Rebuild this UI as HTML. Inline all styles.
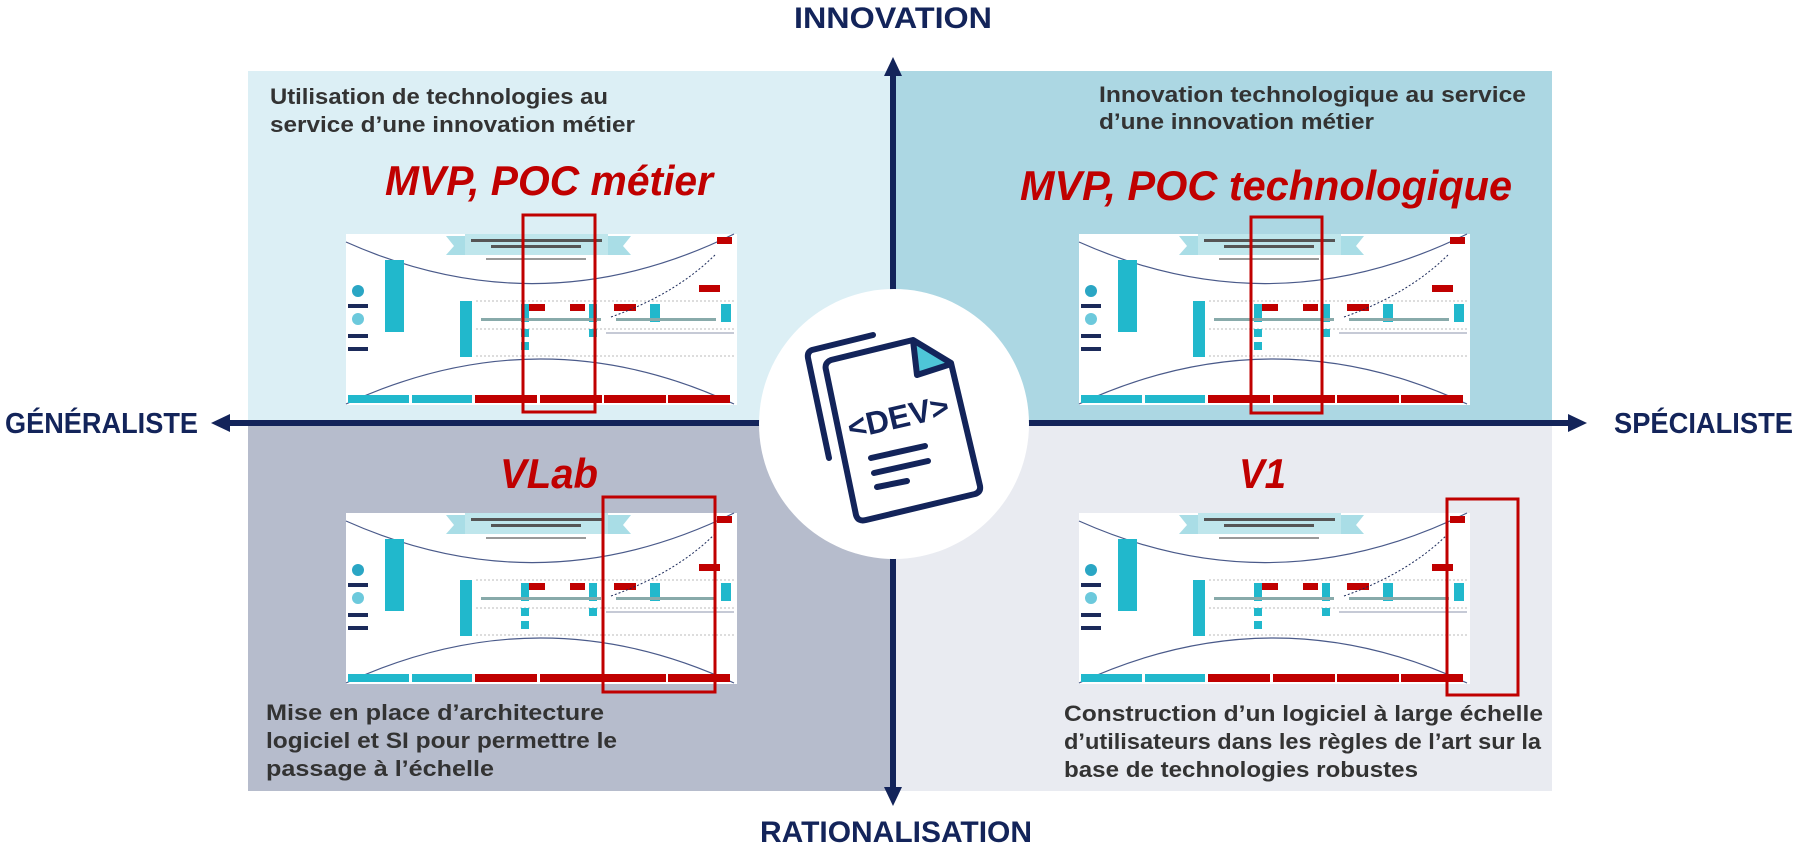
<!DOCTYPE html>
<html><head><meta charset="utf-8"><style>
html,body{margin:0;padding:0;background:#fff;}
svg{display:block;}
text{font-family:"Liberation Sans",sans-serif;}
</style></head><body>
<svg width="1805" height="846" viewBox="0 0 1805 846" xmlns="http://www.w3.org/2000/svg">
<defs>
<g id="thumb">
  <rect x="0" y="0" width="391" height="171" fill="#fff"/>
  <polygon points="100,2 119,2 119,21 100,21 108,12" fill="#a9dde6"/>
  <polygon points="262,2 285,2 277,12 285,21 262,21" fill="#a9dde6"/>
  <rect x="119" y="0" width="143" height="21" fill="#bfe6ec"/>
  <rect x="125" y="5" width="131" height="3" fill="#555"/>
  <rect x="145" y="11" width="90" height="3" fill="#555"/>
  <rect x="140" y="24" width="100" height="2" fill="#999"/>
  <path d="M0,8 Q195,95 388,0" fill="none" stroke="#4a5a8a" stroke-width="1.2"/>
  <path d="M0,170 Q195,80 388,170" fill="none" stroke="#4a5a8a" stroke-width="1.2"/>
  <line x1="130" y1="67" x2="388" y2="67" stroke="#bbb" stroke-dasharray="2,2"/>
  <line x1="130" y1="95" x2="388" y2="95" stroke="#bbb" stroke-dasharray="2,2"/>
  <line x1="130" y1="122" x2="388" y2="122" stroke="#bbb" stroke-dasharray="2,2"/>
  <rect x="39" y="26" width="19" height="72" fill="#21b8cc"/>
  <rect x="114" y="67" width="12" height="56" fill="#21b8cc"/>
  <circle cx="12" cy="57" r="6" fill="#2aa6c4"/>
  <circle cx="12" cy="85" r="6" fill="#6cc9dc"/>
  <rect x="2" y="70" width="20" height="4" fill="#1b2a5a"/>
  <rect x="2" y="100" width="20" height="4" fill="#1b2a5a"/>
  <rect x="2" y="113" width="20" height="4" fill="#1b2a5a"/>
  <rect x="175" y="70" width="8" height="18" fill="#21b8cc"/>
  <rect x="243" y="70" width="8" height="18" fill="#21b8cc"/>
  <rect x="304" y="70" width="10" height="18" fill="#21b8cc"/>
  <rect x="375" y="70" width="10" height="18" fill="#21b8cc"/>
  <rect x="175" y="95" width="8" height="8" fill="#21b8cc"/>
  <rect x="175" y="108" width="8" height="8" fill="#21b8cc"/>
  <rect x="243" y="95" width="8" height="8" fill="#21b8cc"/>
  <rect x="371" y="3" width="15" height="7" fill="#c00000"/>
  <rect x="353" y="51" width="21" height="7" fill="#c00000"/>
  <rect x="183" y="70" width="16" height="7" fill="#c00000"/>
  <rect x="224" y="70" width="15" height="7" fill="#c00000"/>
  <rect x="268" y="70" width="22" height="7" fill="#c00000"/>
  <path d="M265,83 Q330,60 370,20" fill="none" stroke="#1b2a5a" stroke-dasharray="2,2"/>
  <line x1="260" y1="99" x2="388" y2="99" stroke="#1b2a5a" stroke-width="0.6"/>
  <rect x="135" y="84" width="120" height="3" fill="#8aa"/>
  <rect x="270" y="84" width="100" height="3" fill="#8aa"/>
  <rect x="2" y="161" width="61" height="8" fill="#21b8cc"/>
  <rect x="66" y="161" width="60" height="8" fill="#21b8cc"/>
  <rect x="129" y="161" width="62" height="8" fill="#c00000"/>
  <rect x="194" y="161" width="62" height="8" fill="#c00000"/>
  <rect x="258" y="161" width="62" height="8" fill="#c00000"/>
  <rect x="322" y="161" width="62" height="8" fill="#c00000"/>
</g>
</defs>

<!-- quadrants -->
<rect x="248" y="71" width="646" height="352" fill="#dceff5"/>
<rect x="894" y="71" width="658" height="352" fill="#acd7e3"/>
<rect x="248" y="423" width="646" height="368" fill="#b6bccc"/>
<rect x="894" y="423" width="658" height="368" fill="#e9ebf1"/>

<!-- axes -->
<line x1="893" y1="70" x2="893" y2="790" stroke="#13245a" stroke-width="6"/>
<polygon points="893,57 884,76 902,76" fill="#13245a"/>
<polygon points="893,806 884,787 902,787" fill="#13245a"/>
<line x1="225" y1="423" x2="1575" y2="423" stroke="#13245a" stroke-width="6"/>
<polygon points="211,423 230,414 230,432" fill="#13245a"/>
<polygon points="1587,423 1568,414 1568,432" fill="#13245a"/>

<!-- axis labels -->
<text x="893" y="28" text-anchor="middle" font-size="30" font-weight="bold" fill="#13245a" textLength="198" lengthAdjust="spacingAndGlyphs">INNOVATION</text>
<text x="896" y="842" text-anchor="middle" font-size="30" font-weight="bold" fill="#13245a" textLength="272" lengthAdjust="spacingAndGlyphs">RATIONALISATION</text>
<text x="5" y="433" font-size="29" font-weight="bold" fill="#13245a" textLength="193" lengthAdjust="spacingAndGlyphs">GÉNÉRALISTE</text>
<text x="1614" y="433" font-size="29" font-weight="bold" fill="#13245a" textLength="179" lengthAdjust="spacingAndGlyphs">SPÉCIALISTE</text>

<!-- descriptions -->
<g font-size="22" font-weight="bold" fill="#333">
<text x="270" y="104" textLength="338" lengthAdjust="spacingAndGlyphs">Utilisation de technologies au</text>
<text x="270" y="132" textLength="365" lengthAdjust="spacingAndGlyphs">service d’une innovation métier</text>
<text x="1099" y="102" textLength="427" lengthAdjust="spacingAndGlyphs">Innovation technologique au service</text>
<text x="1099" y="129" textLength="275" lengthAdjust="spacingAndGlyphs">d’une innovation métier</text>
<text x="266" y="720" textLength="338" lengthAdjust="spacingAndGlyphs">Mise en place d’architecture</text>
<text x="266" y="748" textLength="351" lengthAdjust="spacingAndGlyphs">logiciel et SI pour permettre le</text>
<text x="266" y="776" textLength="228" lengthAdjust="spacingAndGlyphs">passage à l’échelle</text>
<text x="1064" y="721" textLength="479" lengthAdjust="spacingAndGlyphs">Construction d’un logiciel à large échelle</text>
<text x="1064" y="749" textLength="477" lengthAdjust="spacingAndGlyphs">d’utilisateurs dans les règles de l’art sur la</text>
<text x="1064" y="777" textLength="354" lengthAdjust="spacingAndGlyphs">base de technologies robustes</text>
</g>

<!-- titles -->
<g font-size="42" font-weight="bold" font-style="italic" fill="#c00000">
<text x="385" y="195" textLength="328" lengthAdjust="spacingAndGlyphs">MVP, POC métier</text>
<text x="1020" y="200" textLength="492" lengthAdjust="spacingAndGlyphs">MVP, POC technologique</text>
<text x="500" y="488" textLength="98" lengthAdjust="spacingAndGlyphs">VLab</text>
<text x="1239" y="488" textLength="47" lengthAdjust="spacingAndGlyphs">V1</text>
</g>

<!-- thumbnails -->
<use href="#thumb" x="346" y="234"/>
<use href="#thumb" x="1079" y="234"/>
<use href="#thumb" x="346" y="513"/>
<use href="#thumb" x="1079" y="513"/>

<!-- red highlight boxes -->
<g fill="none" stroke="#c00000" stroke-width="3">
<rect x="523" y="215" width="72" height="197"/>
<rect x="1251" y="217" width="71" height="196"/>
<rect x="603" y="497" width="112" height="195"/>
<rect x="1447" y="499" width="71" height="196"/>
</g>

<!-- center circle & icon -->
<circle cx="894" cy="424" r="135" fill="#fff"/>
<g fill="none" stroke="#13245a" stroke-width="6" stroke-linecap="round" stroke-linejoin="round">
  <path d="M873,335 L812,350 Q807,352 808,358 L829,458"/>
  <polygon points="913,342 948,364 917,375" fill="#4ec6d8" stroke="none"/>
  <path d="M913,340 L831,360 Q824,363 826,370 L856,515 Q858,522 866,520 L975,494 Q981,492 980,486 L951,363 L913,340 L917,375 L948,365"/>
  <line x1="871" y1="458" x2="925" y2="446"/>
  <line x1="874" y1="473" x2="928" y2="461"/>
  <line x1="877" y1="487" x2="907" y2="481"/>
</g>
<text x="898" y="428" text-anchor="middle" font-size="32" font-weight="bold" fill="#13245a" transform="rotate(-13 898 416)">&lt;DEV&gt;</text>
</svg>
</body></html>
